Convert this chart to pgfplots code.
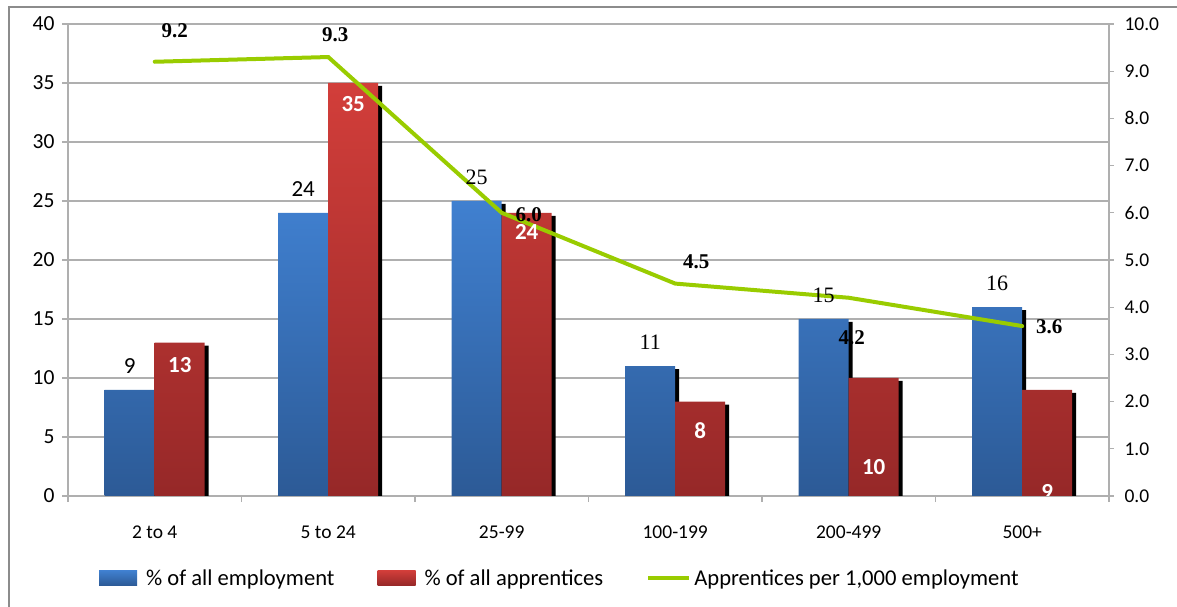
\documentclass[border=0pt]{standalone}
\usepackage{pgfplots}
\pgfplotsset{compat=1.18}
\usepackage{fontspec}
\setmainfont{Carlito}
\newfontfamily\serif{Liberation Serif}
\definecolor{bluetop}{RGB}{64,128,208}
\definecolor{bluebot}{RGB}{44,90,150}
\definecolor{redtop}{RGB}{210,62,58}
\definecolor{redbot}{RGB}{150,40,40}
\definecolor{lgreen}{RGB}{153,204,0}
\definecolor{gridgray}{RGB}{175,175,175}
\definecolor{framegray}{RGB}{140,140,140}
\begin{document}
\begin{tikzpicture}[x=1pt,y=1pt]
\useasboundingbox (0,0) rectangle (1177,607);
\draw[framegray, line width=1.5pt] (9,0) -- (9,600) -- (1177,600);
\begin{axis}[
  at={(68pt,111pt)}, anchor=south west, scale only axis,
  width=1041pt, height=472pt,
  xmin=-0.5, xmax=5.5, ymin=0, ymax=40,
  axis x line*=bottom, axis y line*=left,
  axis line style={gridgray, line width=1.2pt},
  ytick={0,5,...,40},
  xtick={-0.5,0.5,1.5,2.5,3.5,4.5,5.5}, xticklabels={},
  extra x ticks={0,1,2,3,4,5},
  extra x tick labels={2 to 4,5 to 24,25-99,100-199,200-499,500+},
  extra x tick style={tick style={draw=none}, tick label style={font=\fontsize{19.5}{20}\selectfont, yshift=-20pt}},
  tick align=outside, major tick length=6pt,
  tick style={gridgray, line width=1.2pt},
  ymajorgrids, grid style={gridgray, line width=1.2pt},
  yticklabel style={font=\fontsize{21.5}{22}\selectfont, xshift=-4pt},
  /pgf/number format/assume math mode=true,
  legend columns=3,
  legend style={at={(0.4725,-0.1737)}, anchor=center, draw=none, fill=none,
    font=\fontsize{22.6}{23}\selectfont,
    /tikz/every even column/.append style={column sep=41pt}},
]
\addplot[ybar, bar width=50pt, bar shift=-21pt, draw=none, fill=black, yshift=-3pt, forget plot]
  coordinates {(0,9) (1,24) (2,25) (3,11) (4,15) (5,16)};
\addplot[ybar, bar width=50pt, bar shift=-25pt, draw=none,
  top color=bluetop, bottom color=bluebot,
  legend image code/.code={\shade[top color=bluetop, bottom color=bluebot] (0pt,-7.5pt) rectangle (38pt,7.5pt); \path[draw=none] (0pt,0pt) -- (45pt,0pt);}]
  coordinates {(0,9) (1,24) (2,25) (3,11) (4,15) (5,16)};
\addlegendentry{\% of all employment}
\addplot[ybar, bar width=50pt, bar shift=29pt, draw=none, fill=black, yshift=-3pt, forget plot]
  coordinates {(0,13) (1,35) (2,24) (3,8) (4,10) (5,9)};
\addplot[ybar, bar width=50pt, bar shift=25pt, draw=none,
  top color=redtop, bottom color=redbot,
  legend image code/.code={\shade[top color=redtop, bottom color=redbot] (0pt,-7.5pt) rectangle (38pt,7.5pt); \path[draw=none] (0pt,0pt) -- (45pt,0pt);}]
  coordinates {(0,13) (1,35) (2,24) (3,8) (4,10) (5,9)};
\addlegendentry{\% of all apprentices}
\addlegendimage{draw=none, legend image code/.code={\draw[lgreen, line width=4pt] (0pt,0pt) -- (41pt,0pt); \path[draw=none] (0pt,0pt) -- (44pt,0pt);}}
\addlegendentry{Apprentices per 1,000 employment}
\end{axis}
\begin{axis}[
  at={(68pt,111pt)}, anchor=south west, scale only axis,
  width=1041pt, height=472pt,
  xmin=-0.5, xmax=5.5, ymin=0, ymax=10,
  axis x line=none, axis y line*=right,
  axis line style={gridgray, line width=1.2pt},
  ytick={0,1,...,10},
  tick align=outside, major tick length=5pt,
  tick style={gridgray, line width=1.2pt},
  yticklabel style={font=\fontsize{19.5}{20}\selectfont, xshift=7pt,
    /pgf/number format/.cd, fixed, fixed zerofill, precision=1},
  /pgf/number format/assume math mode=true,
]
\addplot[lgreen, line width=4pt, line cap=round] coordinates {(0,9.2) (1,9.3) (2,6.0) (3,4.5) (4,4.2) (5,3.6)};
% blue labels
\node[font=\fontsize{23}{23}\selectfont, inner sep=0, xshift=-25pt] at (axis cs:0,2.76) {9};
\node[font=\fontsize{23}{23}\selectfont, inner sep=0, xshift=-25pt] at (axis cs:1,6.51) {24};
\node[font=\serif\fontsize{22}{22}\selectfont, inner sep=0, xshift=-25pt] at (axis cs:2,6.76) {25};
\node[font=\serif\fontsize{22}{22}\selectfont, inner sep=0, xshift=-25pt] at (axis cs:3,3.26) {11};
\node[font=\serif\fontsize{22}{22}\selectfont, inner sep=0, xshift=-25pt] at (axis cs:4,4.26) {15};
\node[font=\serif\fontsize{22}{22}\selectfont, inner sep=0, xshift=-25pt] at (axis cs:5,4.51) {16};
% red labels
\begin{scope}
\clip (rel axis cs:0,0) rectangle (rel axis cs:1,1);
\node[font=\bfseries\fontsize{23}{23}\selectfont, text=white, inner sep=0, xshift=25pt] at (axis cs:0,2.78) {13};
\node[font=\bfseries\fontsize{23}{23}\selectfont, text=white, inner sep=0, xshift=25pt] at (axis cs:1,8.3) {35};
\node[font=\bfseries\fontsize{23}{23}\selectfont, text=white, inner sep=0, xshift=25pt] at (axis cs:2,5.6) {24};
\node[font=\bfseries\fontsize{23}{23}\selectfont, text=white, inner sep=0, xshift=25pt] at (axis cs:3,1.375) {8};
\node[font=\bfseries\fontsize{23}{23}\selectfont, text=white, inner sep=0, xshift=25pt] at (axis cs:4,0.615) {10};
\node[font=\bfseries\fontsize{23}{23}\selectfont, text=white, inner sep=0, xshift=25pt] at (axis cs:5,0.085) {9};
\end{scope}
% line labels
\node[font=\serif\bfseries\fontsize{21}{21}\selectfont, inner sep=0, xshift=20pt] at (axis cs:0,9.85) {9.2};
\node[font=\serif\bfseries\fontsize{21}{21}\selectfont, inner sep=0, xshift=7pt] at (axis cs:1,9.77) {9.3};
\node[font=\serif\bfseries\fontsize{21}{21}\selectfont, inner sep=0, xshift=27pt] at (axis cs:2,5.95) {6.0};
\node[font=\serif\bfseries\fontsize{21}{21}\selectfont, inner sep=0, xshift=21pt] at (axis cs:3,4.96) {4.5};
\node[font=\serif\bfseries\fontsize{21}{21}\selectfont, inner sep=0, xshift=3pt] at (axis cs:4,3.35) {4.2};
\node[font=\serif\bfseries\fontsize{21}{21}\selectfont, inner sep=0, xshift=27pt] at (axis cs:5,3.58) {3.6};
\end{axis}
\end{tikzpicture}
\end{document}
